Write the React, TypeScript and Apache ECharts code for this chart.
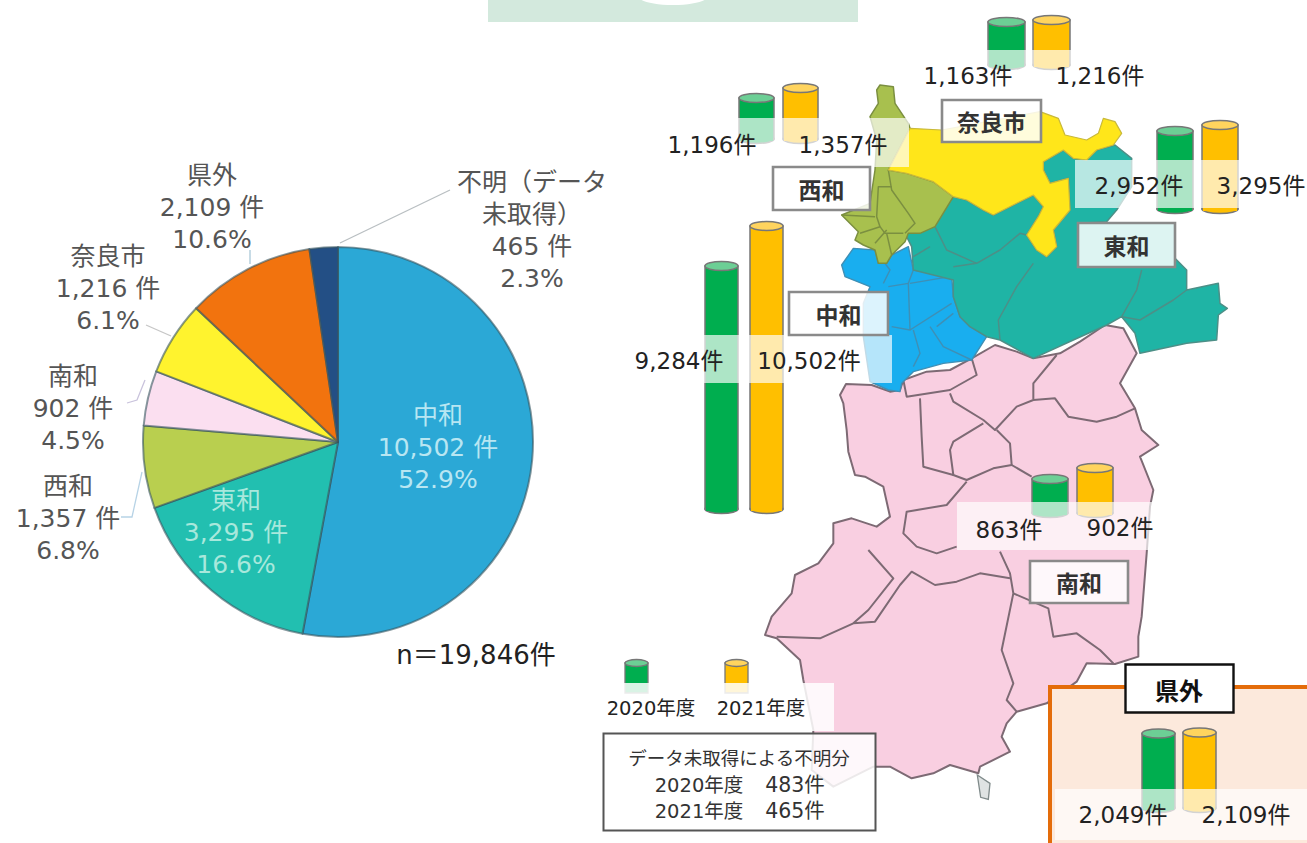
import React, { useEffect, useRef } from "react";
import * as echarts from "echarts";

// ---------- data ----------
const pieNames = ["中和", "東和", "西和", "南和", "奈良市", "県外", "不明（データ\n未取得）"];
const pieValues = [10502, 3295, 1357, 902, 1216, 2109, 465];
const pieColors = ["#2ba8d6", "#22bfb0", "#b9cf4f", "#fbdff0", "#fff32e", "#f2730e", "#234f85"];
const pieLabelColors = ["#b8e6f2", "#a8e8dc", "#555", "#555", "#555", "#555", "#555"];
const pieLabelPos = [[438, 447], [236, 532], [68, 518], [73, 408], [108, 288], [212, 207], [532, 230]];
const pieTotalLabel = "n＝19,846件";

const regionNames = ["奈良市", "西和", "東和", "中和", "南和", "県外"];
const values2020 = [1163, 1196, 2952, 9284, 863, 2049];
const values2021 = [1216, 1357, 3295, 10502, 902, 2109];
const yearNames = ["2020年度", "2021年度"];
const unknownTitle = "データ未取得による不明分";
const unknownValues = [483, 465];

// cylinder placement on the map: left edges, width, top-centres and base of each pair
const cylLayout = [
  { gx: 988, ox: 1033, w: 37, gTop: 22, oTop: 20, base: 65 },
  { gx: 739, ox: 783, w: 35, gTop: 98, oTop: 88, base: 139 },
  { gx: 1157, ox: 1202, w: 36, gTop: 131, oTop: 125, base: 209 },
  { gx: 705, ox: 750, w: 33, gTop: 266, oTop: 226, base: 509 },
  { gx: 1032, ox: 1077, w: 36, gTop: 479, oTop: 468, base: 513 },
  { gx: 1142, ox: 1183, w: 33, gTop: 733.5, oTop: 732.5, base: 808 },
];
const valueLabelPos = [
  [[968, 76], [1100, 76]],
  [[712, 145], [843, 145]],
  [[1139, 186], [1261, 186]],
  [[679, 361], [809, 361]],
  [[1009, 530], [1120, 528]],
  [[1123, 815], [1246, 815]],
];
const bandRects = [
  [920, 50, 230, 42], [665, 118, 244, 49], [1075, 160, 232, 48],
  [685, 335, 207, 48], [957, 502, 196, 48], [1055, 789, 252, 51],
];
const regionBoxes = [
  [942, 100, 99, 42], [773, 167, 97, 43], [1078, 223, 97, 44],
  [789, 292, 99, 43], [1030, 561, 98, 42],
];
const regionBoxNames = ["奈良市", "西和", "東和", "中和", "南和"];

// ---------- map outlines, traced in crop coordinates ----------
const crop = (ox: number, oy: number, p: number[]) => {
  const out: number[][] = [];
  for (let i = 0; i < p.length; i += 2) out.push([ox + p[i] / 3, oy + p[i + 1] / 3]);
  return out;
};
const A = (p: number[]) => crop(820, 70, p);
const B = (p: number[]) => crop(740, 320, p);
const C = (p: number[]) => crop(740, 540, p);

const pinkShape = [
  ...B([300,225,318,192,395,195,450,215,480,210,490,180,560,155,630,150,695,115,765,75,830,95,880,115,960,100,1020,65,1095,15,1150,25,1190,100,1140,190,1185,265,1205,330,1255,375,1200,410,1240,510,1230,560,1220,700]),
  ...C([1205,230,1195,290,1195,350,1125,372,1040,370,1010,425,920,490,830,515,800,550,785,590,810,635,720,680,715,700,630,675,580,700,515,715,450,680,400,680,280,740,215,690,220,570,190,420,180,360,110,295,75,285,95,230,155,160,165,105,235,70,280,10]),
  ...B([280,610,335,595,410,620,450,590,430,500,375,470,345,465,325,395,320,330,310,250]),
];
const pinkLines = [
  B([490,180,500,230,630,210,710,165,695,115]),
  B([540,235,545,350,550,440,640,465]),
  B([630,220,640,245,730,300,765,330,830,260,880,240,880,190,950,105]),
  B([880,240,945,235,985,290,1070,305,1130,290,1185,265]),
  B([730,310,640,365,630,390,640,465,680,480,760,445,815,435,810,370,770,330]),
  B([815,435,875,470]),
  B([680,485,620,555,500,575,490,640,530,680,590,700,650,680]),
  C([810,115,720,100,650,125,585,135,515,95,480,135,405,245,340,250,240,295,110,290]),
  C([385,30,460,115,385,210,340,250]),
  C([780,35,810,100,820,160,785,330,820,430,800,480,830,515]),
  C([820,160,925,205,940,290,1010,280,1080,330,1120,370]),
];
const island = C([712,705,750,730,745,778,722,772]);

const blueShape = A([65,585,100,535,165,540,175,580,200,580,215,555,265,530,280,600,395,620,400,680,420,740,450,770,500,800,455,870,370,880,280,905,245,940,240,965,205,960,150,935,130,800,130,700,150,650,75,620]);
const blueLines = [
  A([190,640,210,600,165,540]),
  A([205,650,265,640,270,780,215,770]),
  A([265,640,280,600]),
  A([270,640,390,620]),
  A([270,780,395,700]),
  A([280,780,300,850,280,890]),
  A([330,770,370,830,455,870]),
  A([400,730,350,770]),
];
const tealShape = A([670,275,730,240,760,265,800,270,830,240,885,225,935,265,935,350,890,420,860,455,775,460,1065,460,1065,565,1100,600,1100,660,1195,640,1200,700,1222,715,1195,735,1190,810,1100,820,960,850,945,790,905,740,860,765,760,810,640,865,540,810,500,800,450,770,420,740,400,680,400,630,280,600,275,530,255,490,300,480,345,460,400,380,440,390,490,420,520,435,590,400,640,375,670,410,655,440,620,495,650,540,680,560,710,530,700,480,750,420,745,325,690,340,670,300]);
const tealLines = [
  A([345,470,380,540,470,580,540,540,600,490,620,495]),
  A([400,590,470,580]),
  A([640,580,590,650,535,750,540,810]),
  A([965,600,950,660,905,740]),
  A([905,740,960,750,1060,690,1100,660]),
  A([330,530,280,560]),
];
const oliveShape = A([180,45,220,50,225,100,265,160,270,175,210,290,205,300,260,310,340,335,400,380,345,470,300,490,265,490,255,515,215,555,200,580,175,580,165,540,130,525,105,510,115,485,65,435,150,400,165,300,170,210,150,140,175,100,170,60]);
const oliveLines = [
  A([205,300,215,360,265,430,285,460,255,490]),
  A([215,350,175,350,170,440,180,470,120,490]),
  A([65,435,165,440]),
  A([180,470,195,490,250,490]),
  A([200,490,215,555]),
  A([165,520,200,480]),
];
const yellowShape = A([270,175,365,180,660,125,715,145,735,195,800,210,835,190,850,145,885,155,905,190,880,225,830,240,800,270,760,265,730,240,670,275,670,300,690,340,745,325,750,420,700,480,710,530,680,560,650,540,620,495,655,440,670,410,640,375,590,400,520,435,490,420,440,390,400,380,340,335,260,310,205,300,210,290]);

const mapRegions = [
  { shape: pinkShape, fill: "#f9cfe1", stroke: "#7d6a74", lines: pinkLines, lw: 2 },
  { shape: blueShape, fill: "#19aeef", stroke: "#3f8fb5", lines: blueLines, lw: 1.4 },
  { shape: tealShape, fill: "#1fb4a5", stroke: "#4d8f87", lines: tealLines, lw: 1.5 },
  { shape: oliveShape, fill: "#a8c04e", stroke: "#7b8f40", lines: oliveLines, lw: 1.5 },
  { shape: yellowShape, fill: "#ffe61a", stroke: "#c9b93a", lines: [] as number[][][], lw: 1.2 },
];

// ---------- helpers ----------
const LATIN = '"DejaVu Sans", "Noto Sans CJK JP", sans-serif';
const CJK = '"Noto Sans CJK JP", sans-serif';
const fmt = (v: number) => v.toLocaleString("en-US");

const txt = (text: string, x: number, y: number, fontSize: number, fill = "#222", extra: any = {}) => ({
  type: "text",
  z: 12,
  style: { text, x, y, fontSize, fontFamily: LATIN, fill, align: "center", verticalAlign: "middle", ...extra },
});

function buildGraphic() {
  const els: any[] = [];
  // header strip cut off by the top of the page
  els.push({ type: "rect", z: 0, shape: { x: 488, y: 0, width: 370, height: 22 }, style: { fill: "#d3e9dd" } });
  els.push({ type: "ellipse", z: 0, z2: 1, shape: { cx: 673, cy: -3, rx: 34, ry: 8 }, style: { fill: "#fff" } });

  let z2 = 0;
  mapRegions.forEach((r) => {
    els.push({ type: "polygon", z: 1, z2: z2++, shape: { points: r.shape }, style: { fill: r.fill, stroke: r.stroke, lineWidth: r.lw, lineJoin: "round" } });
    r.lines.forEach((pts) => {
      els.push({ type: "polyline", z: 1, z2: z2++, shape: { points: pts }, style: { fill: "none", stroke: r.stroke, lineWidth: r.lw, lineJoin: "round" } });
    });
  });
  els.push({ type: "polygon", z: 1, z2: z2++, shape: { points: island }, style: { fill: "#dfe3e3", stroke: "#7f8a8a", lineWidth: 1.3 } });

  // 県外 frame
  els.push({ type: "rect", z: 3, shape: { x: 1050, y: 687, width: 300, height: 200 }, style: { fill: "#fce9dc", stroke: "#e46c0a", lineWidth: 4 } });

  // pale bands under the value labels
  bandRects.forEach(([x, y, width, height]) => {
    els.push({ type: "rect", z: 10, shape: { x, y, width, height }, style: { fill: "rgba(255,255,255,0.68)" } });
  });

  // legend panel and note box
  els.push({ type: "rect", z: 10, shape: { x: 604, y: 683, width: 230, height: 48 }, style: { fill: "rgba(255,255,255,0.85)" } });
  els.push({ type: "rect", z: 11, shape: { x: 603.5, y: 733.5, width: 272, height: 97 }, style: { fill: "rgba(255,255,255,0.85)", stroke: "#555", lineWidth: 2 } });

  // legend cylinders
  [[625, "#00ae4f", "#6ccf95"], [725, "#ffbf00", "#ffd45e"]].forEach(([x, body, cap]: any) => {
    els.push({ type: "rect", z: 9, shape: { x, y: 663, width: 23, height: 30 }, style: { fill: body, stroke: "#777", lineWidth: 1.3 } });
    els.push({ type: "ellipse", z: 9, z2: 1, shape: { cx: x + 11.5, cy: 663, rx: 11.5, ry: 3.5 }, style: { fill: cap, stroke: "#777", lineWidth: 1.3 } });
  });
  els.push(txt(yearNames[0], 651, 708, 19.5));
  els.push(txt(yearNames[1], 761, 708, 19.5));

  // note box text
  els.push(txt(unknownTitle, 739, 757, 18.5, "#333", { fontFamily: CJK }));
  yearNames.forEach((y, i) => {
    const yy = 785 + i * 26;
    els.push(txt(y, 699, yy, 19.5, "#333"));
    els.push(txt(`${unknownValues[i]}件`, 795, yy, 20.5, "#333"));
  });

  // region name boxes
  regionBoxes.forEach(([x, y, width, height], i) => {
    els.push({ type: "rect", z: 11, shape: { x, y, width, height }, style: { fill: "rgba(255,255,255,0.85)", stroke: "#8a8a8a", lineWidth: 2.6 } });
    els.push(txt(regionBoxNames[i], x + width / 2, y + height / 2, 23, "#333", { fontFamily: CJK, fontWeight: "bold" }));
  });
  els.push({ type: "rect", z: 11, shape: { x: 1125.5, y: 664.5, width: 108, height: 48 }, style: { fill: "#fff", stroke: "#111", lineWidth: 2.4 } });
  els.push(txt(regionNames[5], 1179, 689, 24, "#111", { fontFamily: CJK, fontWeight: "bold" }));

  // value labels on the map
  regionNames.forEach((_, i) => {
    const [p0, p1] = valueLabelPos[i];
    els.push(txt(`${fmt(values2020[i])}件`, p0[0], p0[1], 23));
    els.push(txt(`${fmt(values2021[i])}件`, p1[0], p1[1], 23));
  });

  // pie total
  els.push(txt(pieTotalLabel, 476, 655, 26));

  // faint leader lines of the pie labels
  const leaders = [
    { pts: [[340, 243], [450, 190]], c: "#b9bfc2" },
    { pts: [[121, 517], [132, 517], [142, 472]], c: "#b7d3e6" },
    { pts: [[127, 403], [137, 400], [145, 380]], c: "#c9c3dc" },
    { pts: [[146, 325], [171, 336]], c: "#c6c6c6" },
    { pts: [[250, 250], [250, 264]], c: "#a9c8d8" },
  ];
  leaders.forEach((l) => {
    els.push({ type: "polyline", z: 4, shape: { points: l.pts }, style: { fill: "none", stroke: l.c, lineWidth: 1.3 } });
  });
  return els;
}

function cylinderSeries() {
  const grid: any[] = [];
  const xAxis: any[] = [];
  const yAxis: any[] = [];
  const series: any[] = [];
  regionNames.forEach((name, i) => {
    const L = cylLayout[i];
    const g = values2020[i];
    const o = values2021[i];
    const d = L.ox - L.gx;
    const gc = L.gx + L.w / 2;
    const scale = (L.gTop - L.oTop) / (o - g);
    grid.push({ left: gc - d / 2, width: 2 * d, top: L.oTop, height: L.base - L.oTop });
    xAxis.push({ type: "category", gridIndex: i, data: yearNames, show: false });
    yAxis.push({ type: "value", gridIndex: i, show: false, min: g - (L.base - L.gTop) / scale, max: o });
    series.push({
      type: "custom",
      name,
      xAxisIndex: i,
      yAxisIndex: i,
      z: 5,
      silent: true,
      clip: false,
      encode: { x: 0, y: 1 },
      data: [[0, g], [1, o]],
      renderItem: (params: any, api: any) => {
        const idx = api.value(0);
        const [cx, top] = api.coord([idx, api.value(1)]);
        const bottom = params.coordSys.y + params.coordSys.height;
        const rx = L.w / 2;
        const ry = 4.5;
        const body = idx === 0 ? "#00ae4f" : "#ffbf00";
        const cap = idx === 0 ? "#6ccf95" : "#ffd45e";
        const line = { stroke: "#777", lineWidth: 1.5 };
        return {
          type: "group",
          children: [
            { type: "ellipse", shape: { cx, cy: bottom, rx, ry }, style: { fill: body, ...line } },
            { type: "rect", shape: { x: cx - rx, y: top, width: L.w, height: bottom - top }, style: { fill: body, ...line } },
            { type: "rect", shape: { x: cx - rx + 1, y: bottom - 2, width: L.w - 2, height: 4 }, style: { fill: body } },
            { type: "ellipse", shape: { cx, cy: top, rx, ry }, style: { fill: cap, ...line } },
          ],
        };
      },
    });
  });
  return { grid, xAxis, yAxis, series };
}

export default function App() {
  const ref = useRef<HTMLDivElement>(null);
  useEffect(() => {
    document.body.style.margin = "0";
    const chart = echarts.init(ref.current!, undefined, { renderer: "svg" });
    const total = pieValues.reduce((a, b) => a + b, 0);
    const cyl = cylinderSeries();
    chart.setOption({
      animation: false,
      backgroundColor: "#fff",
      grid: cyl.grid,
      xAxis: cyl.xAxis,
      yAxis: cyl.yAxis,
      graphic: { elements: buildGraphic() },
      series: [
        {
          type: "pie",
          z: 2,
          center: [338, 442],
          radius: [0, 195],
          startAngle: 90,
          clockwise: true,
          silent: true,
          avoidLabelOverlap: false,
          labelLine: { show: false },
          itemStyle: { borderColor: "rgba(55,85,95,0.6)", borderWidth: 2 },
          data: pieNames.map((name, i) => ({
            name,
            value: pieValues[i],
            itemStyle: { color: pieColors[i] },
            label: { color: pieLabelColors[i] },
          })),
          label: {
            show: true,
            position: "inside",
            fontFamily: LATIN,
            fontSize: 25,
            lineHeight: 32,
            align: "center",
            formatter: (p: any) => `${p.name}\n${fmt(p.value)} 件\n${((p.value / total) * 100).toFixed(1)}%`,
          },
          labelLayout: (p: any) => ({
            x: pieLabelPos[p.dataIndex][0],
            y: pieLabelPos[p.dataIndex][1],
            align: "center",
            verticalAlign: "middle",
          }),
        },
        ...cyl.series,
      ],
    });
    return () => chart.dispose();
  }, []);
  return <div ref={ref} style={{ position: "absolute", left: 0, top: 0, width: 1307, height: 843, overflow: "hidden" }} />;
}
